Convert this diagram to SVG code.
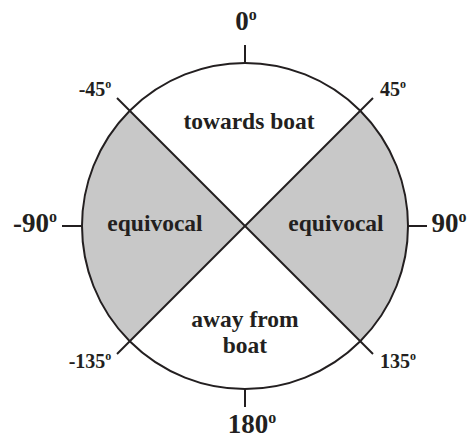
<svg xmlns="http://www.w3.org/2000/svg" width="472" height="441" viewBox="0 0 472 441">
<style>
.ln{stroke:#231f20;stroke-width:2;fill:none;stroke-linecap:butt}
.sec{fill:#c8c8c8;stroke:none}
text{font-family:"Liberation Serif","Times New Roman",serif;font-weight:bold;fill:#231f20;text-anchor:middle}
.big{font-size:27px}
.sm{font-size:20px}
.lbl{font-size:23.5px}
</style>
<rect width="472" height="441" fill="#fff"/>
<g id="sectors">
<path class="sec" d="M245,226 L129.7,110.7 A163,163 0 0 0 129.7,341.3 Z"/>
<path class="sec" d="M245,226 L360.3,110.7 A163,163 0 0 1 360.3,341.3 Z"/>
</g>
<g id="circle"><circle class="ln" cx="245" cy="226" r="163"/></g>
<g id="connectors">
<line class="ln" x1="117" y1="98" x2="373" y2="354"/>
<line class="ln" x1="373" y1="98" x2="117" y2="354"/>
<line class="ln" x1="245" y1="45" x2="245" y2="63"/>
<line class="ln" x1="245" y1="389" x2="245" y2="407"/>
<line class="ln" x1="62" y1="226" x2="82" y2="226"/>
<line class="ln" x1="408" y1="226" x2="427" y2="226"/>
</g>
<g id="angle-labels">
<text class="big" x="246" y="30">0<tspan font-size="16" dy="-10">o</tspan></text>
<text class="big" x="252" y="433">180<tspan font-size="16" dy="-10">o</tspan></text>
<text class="big" x="35" y="232">-90<tspan font-size="16" dy="-10">o</tspan></text>
<text class="big" x="449" y="232">90<tspan font-size="16" dy="-10">o</tspan></text>
<text class="sm" x="95" y="96">-45<tspan font-size="12" dy="-8">o</tspan></text>
<text class="sm" x="393" y="96">45<tspan font-size="12" dy="-8">o</tspan></text>
<text class="sm" x="90" y="368">-135<tspan font-size="12" dy="-8">o</tspan></text>
<text class="sm" x="398" y="368">135<tspan font-size="12" dy="-8">o</tspan></text>
</g>
<g id="towards"><text class="lbl" x="249" y="129">towards boat</text></g>
<g id="equivocal-left"><text class="lbl" x="155" y="231">equivocal</text></g>
<g id="equivocal-right"><text class="lbl" x="336" y="231">equivocal</text></g>
<g id="away"><text class="lbl" x="245" y="327">away from</text><text class="lbl" x="245" y="353">boat</text></g>
</svg>
